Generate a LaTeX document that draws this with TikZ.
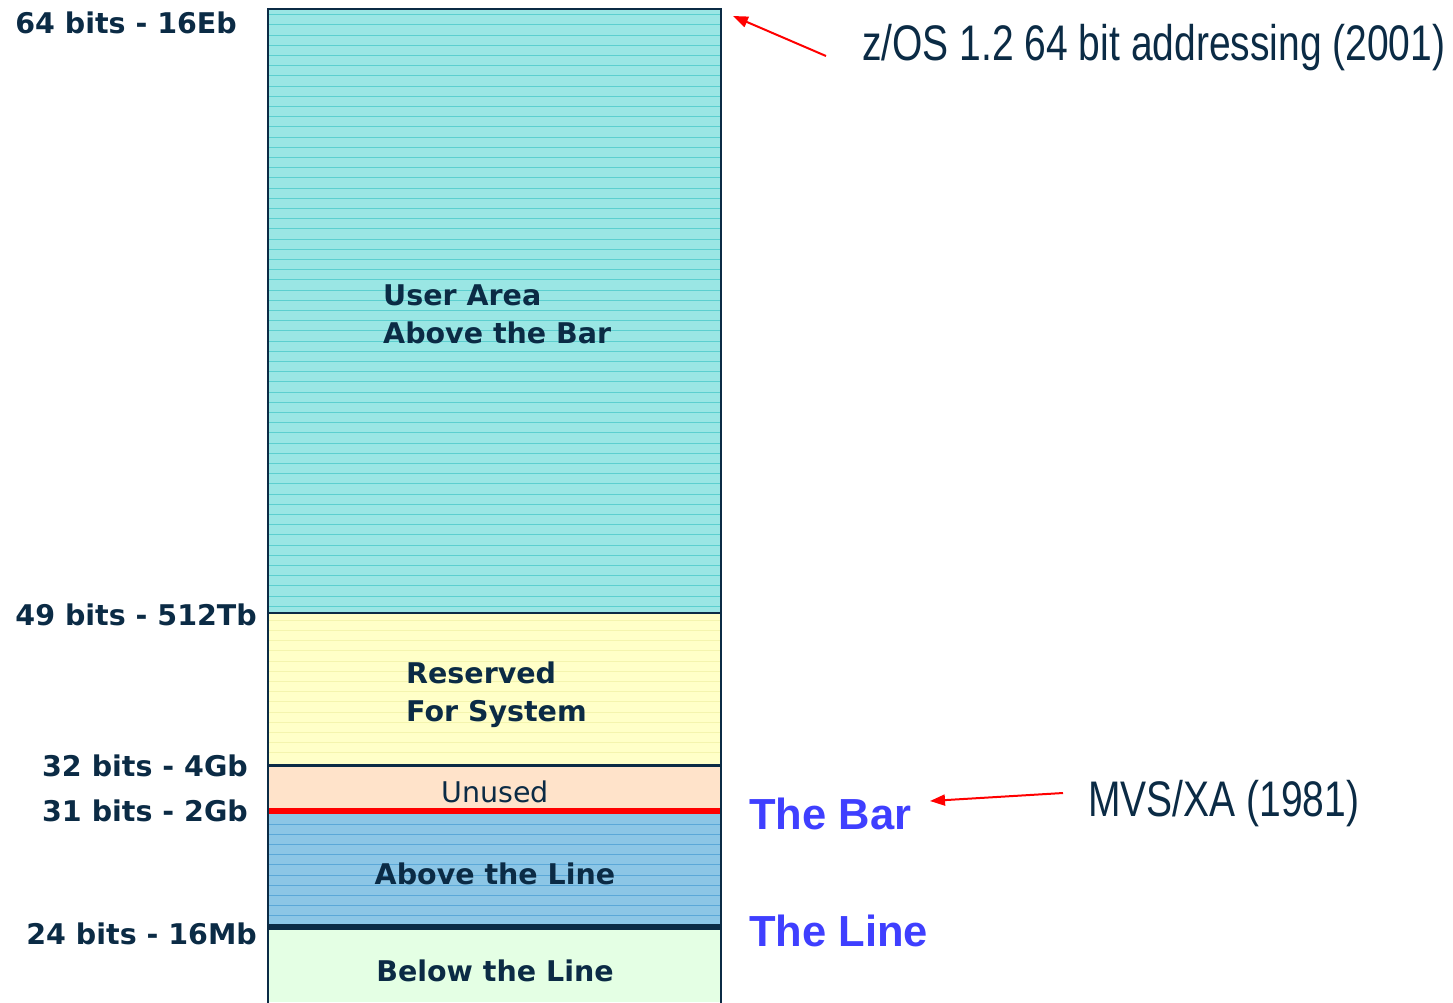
\documentclass[tikz,border=0pt]{standalone}
\usepackage{fontspec}
\setmainfont{DejaVu Sans}
\newfontfamily\lblfont{DejaVu Sans}
\newfontfamily\narrowfont[FakeStretch=0.78]{Liberation Sans}
\newfontfamily\arialfont{Liberation Sans}
\usetikzlibrary{arrows.meta}
\definecolor{navy}{HTML}{0B2B45}
\definecolor{cyanfill}{HTML}{9AE6E4}
\definecolor{cyanstripe}{HTML}{5CCFCF}
\definecolor{yellowfill}{HTML}{FFFFC8}
\definecolor{yellowstripe}{HTML}{F4F4AE}
\definecolor{peachfill}{HTML}{FFE3CA}
\definecolor{bluefill}{HTML}{8CC6E6}
\definecolor{bluestripe}{HTML}{5BA8D8}
\definecolor{greenfill}{HTML}{E4FFE4}
\definecolor{bluetext}{HTML}{3F3FFF}
\definecolor{redline}{HTML}{FF0000}
\tikzset{
  boldlbl/.style={font=\lblfont\bfseries\fontsize{28.5}{36}\selectfont, text=navy, inner sep=0pt},
  inlbl/.style={font=\lblfont\bfseries\fontsize{28.5}{38}\selectfont, text=navy, inner sep=0pt, align=left},
  reglbl/.style={font=\lblfont\fontsize{28.5}{36}\selectfont, text=navy, inner sep=0pt},
  annot/.style={font=\narrowfont\fontsize{50}{60}\selectfont, text=navy, inner sep=0pt},
  marklbl/.style={font=\arialfont\bfseries\fontsize{43.5}{50}\selectfont, text=bluetext, inner sep=0pt},
  redarrow/.style={draw=redline, line width=2pt, -{Triangle[length=15pt,width=11pt]}}
}
\begin{document}
\begin{tikzpicture}[x=1pt,y=-1pt]
\useasboundingbox (0,0) rectangle (1453,1002);
% regions
\fill[cyanfill] (268,9) rectangle (721,613);
\foreach \y in {14.5,24.7,...,610} \draw[cyanstripe, line width=0.8pt] (269,\y) -- (720,\y);
\fill[yellowfill] (268,613) rectangle (721,765);
\foreach \y in {620,630.2,...,762} \draw[yellowstripe, line width=0.6pt] (269,\y) -- (720,\y);
\fill[peachfill] (268,765) rectangle (721,810);
\fill[bluefill] (268,812) rectangle (721,926);
\foreach \y in {824,834.2,...,924} \draw[bluestripe, line width=0.8pt] (269,\y) -- (720,\y);
\fill[greenfill] (268,928) rectangle (721,1002);
% dividers
\draw[navy, line width=2.5pt] (268,613) -- (721,613);
\draw[navy, line width=3pt] (268,765.5) -- (721,765.5);
\draw[redline, line width=6pt] (268,811) -- (721,811);
\draw[navy, line width=6pt] (268,927) -- (721,927);
% outline
\draw[navy, line width=2pt] (268,1003) -- (268,9) -- (721,9) -- (721,1003);
% inner labels (base anchor = last line)
\node[inlbl, anchor=base west] (user) at (383,343) {User Area\\Above the Bar};
\node[inlbl, anchor=base west] (resv) at (406,721) {Reserved\\For System};
\node[reglbl, anchor=base] (unused) at (495,802) {Unused};
\node[boldlbl, anchor=base] (above) at (495,884) {Above the Line};
\node[boldlbl, anchor=base] (below) at (495,981) {Below the Line};
% left labels
\node[boldlbl, anchor=base east] (l64) at (237,33) {64 bits - 16Eb};
\node[boldlbl, anchor=base east] (l49) at (257,625) {49 bits - 512Tb};
\node[boldlbl, anchor=base east] (l32) at (248,776) {32 bits - 4Gb};
\node[boldlbl, anchor=base east] (l31) at (248,821) {31 bits - 2Gb};
\node[boldlbl, anchor=base east] (l24) at (257,944) {24 bits - 16Mb};
% right labels
\node[marklbl, anchor=base west] (bar) at (749,829) {The Bar};
\node[marklbl, anchor=base west] (line) at (749,946) {The Line};
\node[annot, anchor=base west] (zos) at (862,60) {z/OS 1.2 64 bit addressing (2001)};
\node[annot, anchor=base west] (mvs) at (1088,816) {MVS/XA (1981)};
% arrows
\coordinate (zosstart) at (826,56);
\coordinate (zostip) at (733,16);
\coordinate (mvsstart) at (1063,793);
\coordinate (mvstip) at (930,801);
\draw[redarrow] (zosstart) -- (zostip);
\draw[redarrow] (mvsstart) -- (mvstip);
\end{tikzpicture}
\end{document}
